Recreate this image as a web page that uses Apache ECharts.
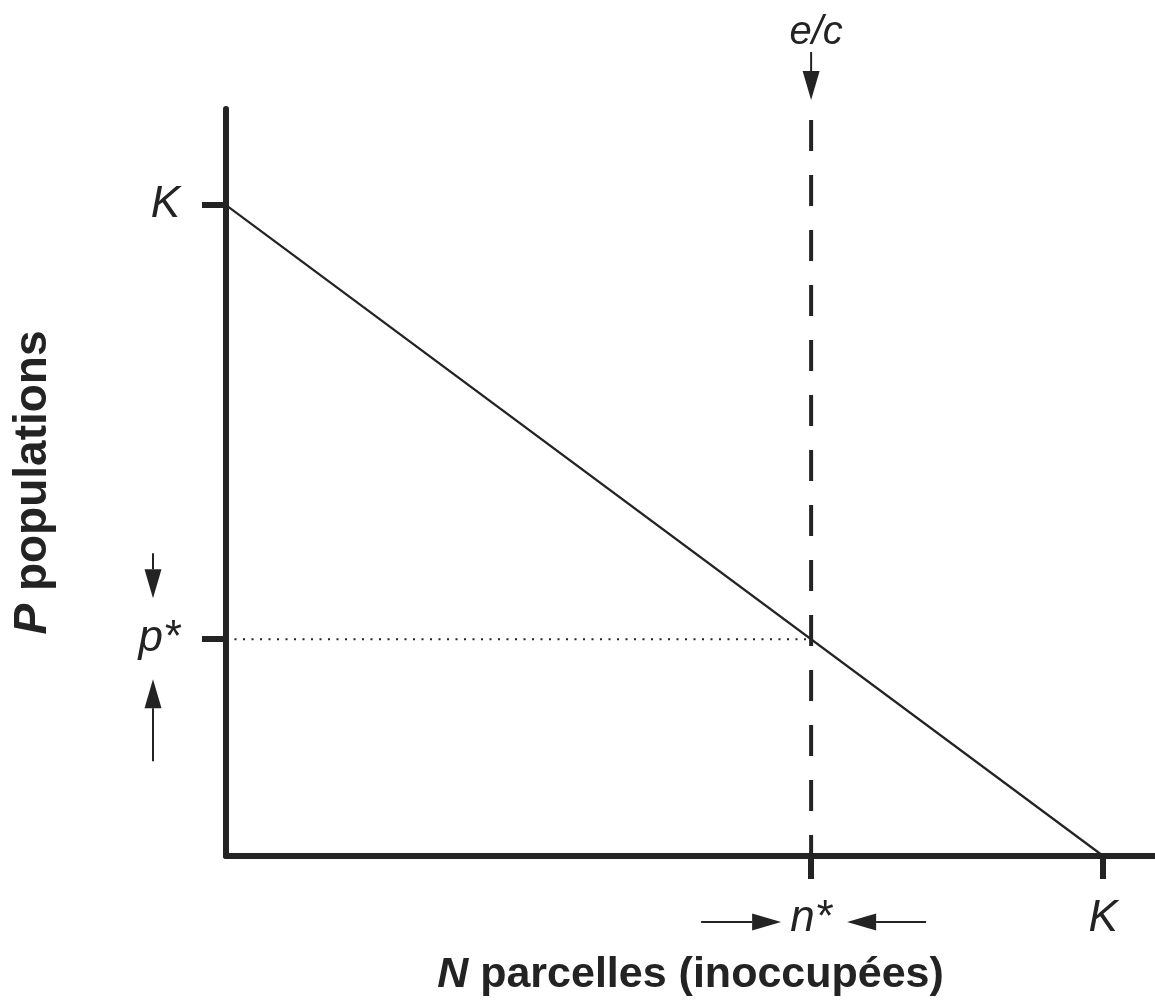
<!DOCTYPE html>
<html><head><meta charset="utf-8">
<script src="https://cdn.jsdelivr.net/npm/echarts@6/dist/echarts.min.js"></script>
<style>html,body{margin:0;padding:0;background:#fff}#c{width:1155px;height:1005px}</style>
</head><body><div id="c"></div><script>
// ---- data ----
const K = 100;
const nStar = 66.7;          // e/c equilibrium of N
const pStar = 33.3;          // equilibrium of P
const isoclineN = [0, 100];
const isoclineP = [100, 0];
const xTickValues = [66.7, 100];
const xTickLabels = ['n*', 'K'];
const yTickValues = [100, 33.3];
const yTickLabels = ['K', 'p*'];
const xMax = 105.9;
const yMax = 114.75;
const dashedTop = 113.06;
const topLabel = 'e/c';

const INK = '#232323';
const FONT = '"Liberation Sans", Arial, Helvetica, sans-serif';

const chart = echarts.init(document.getElementById('c'), null, {renderer: 'canvas'});

function lab(values, labels) {
  return function (v) {
    for (let i = 0; i < values.length; i++) if (Math.abs(values[i] - v) < 1e-6) return labels[i];
    return '';
  };
}

chart.setOption({
  animation: false,
  backgroundColor: '#fff',
  grid: {left: 226, right: 0, top: 109, bottom: 149, containLabel: false, outerBoundsMode: 'none'},
  xAxis: {
    type: 'value', min: 0, max: xMax,
    axisLine: {show: true, lineStyle: {color: INK, width: 6}},
    splitLine: {show: false},
    axisTick: {show: true, customValues: xTickValues, length: 23, lineStyle: {color: INK, width: 6}},
    axisLabel: {show: true, customValues: xTickValues, formatter: lab(xTickValues, xTickLabels),
      margin: 41, color: INK, fontSize: 44, fontStyle: 'italic', fontFamily: FONT},
    name: '{i|N\u00a0}{b|parcelles (inoccupées)}',
    nameLocation: 'middle', nameGap: 98,
    nameTextStyle: {rich: {
      i: {fontSize: 43, fontWeight: 'bold', fontStyle: 'italic', fontFamily: FONT, color: INK},
      b: {fontSize: 43, fontWeight: 'bold', fontFamily: FONT, color: INK}
    }}
  },
  yAxis: {
    type: 'value', min: 0, max: yMax,
    axisLine: {show: true, lineStyle: {color: INK, width: 6}},
    splitLine: {show: false},
    axisTick: {show: true, customValues: yTickValues, length: 24, lineStyle: {color: INK, width: 6}},
    axisLabel: {show: true, customValues: yTickValues, formatter: lab(yTickValues, yTickLabels),
      margin: 46, color: INK, fontSize: 44, fontStyle: 'italic', fontFamily: FONT},
    name: '{i|P\u00a0}{b|populations}',
    nameLocation: 'middle', nameGap: 170, nameRotate: 90,
    nameTextStyle: {rich: {
      i: {fontSize: 46, fontWeight: 'bold', fontStyle: 'italic', fontFamily: FONT, color: INK},
      b: {fontSize: 46, fontWeight: 'bold', fontFamily: FONT, color: INK}
    }}
  },
  series: [
    {
      type: 'line', symbol: 'none', silent: true, z: 3,
      data: isoclineN.map((n, i) => [n, isoclineP[i]]),
      lineStyle: {color: INK, width: 2.2}
    },
    {
      type: 'line', symbol: 'none', silent: true, clip: false, z: 2,
      data: [[nStar, dashedTop], [nStar, 0]],
      lineStyle: {color: INK, width: 4, type: [31, 24]}
    },
    {
      type: 'line', symbol: 'none', silent: true, z: 2,
      data: [[0, pStar], [nStar, pStar]],
      lineStyle: {color: INK, width: 2, type: [2, 6.5]}
    }
  ]
});

// ---- annotation arrows, anchored on the axis scale ----
function arrow(x1, y1, x2, y2) {
  const dx = x2 - x1, dy = y2 - y1, L = Math.sqrt(dx * dx + dy * dy);
  const ux = dx / L, uy = dy / L, hl = 29, hw = 8.5;
  const bx = x2 - ux * hl, by = y2 - uy * hl;
  return [
    {type: 'line', shape: {x1: x1, y1: y1, x2: bx, y2: by}, style: {stroke: INK, lineWidth: 2}, silent: true},
    {type: 'polygon', shape: {points: [[x2, y2], [bx - uy * hw, by + ux * hw], [bx + uy * hw, by - ux * hw]]},
      style: {fill: INK}, silent: true}
  ];
}
const pN = chart.convertToPixel({gridIndex: 0}, [nStar, 0]);
const pP = chart.convertToPixel({gridIndex: 0}, [0, pStar]);
const pTop = chart.convertToPixel({gridIndex: 0}, [nStar, yMax]);

let els = [];
els = els.concat(arrow(pN[0], pTop[1] - 57, pN[0], pTop[1] - 9));
els = els.concat(arrow(pP[0] - 73, pP[1] - 86, pP[0] - 73, pP[1] - 41));
els = els.concat(arrow(pP[0] - 73, pP[1] + 122, pP[0] - 73, pP[1] + 40));
els = els.concat(arrow(pN[0] - 110, pN[1] + 66, pN[0] - 30, pN[1] + 66));
els = els.concat(arrow(pN[0] + 115, pN[1] + 66, pN[0] + 36, pN[1] + 66));
els.push({type: 'text', x: pN[0] + 5, y: pTop[1] - 76, silent: true,
  style: {text: topLabel, fill: INK, font: 'italic 40px ' + FONT, align: 'center', verticalAlign: 'middle'}});

chart.setOption({graphic: {elements: els}});
</script></body></html>
